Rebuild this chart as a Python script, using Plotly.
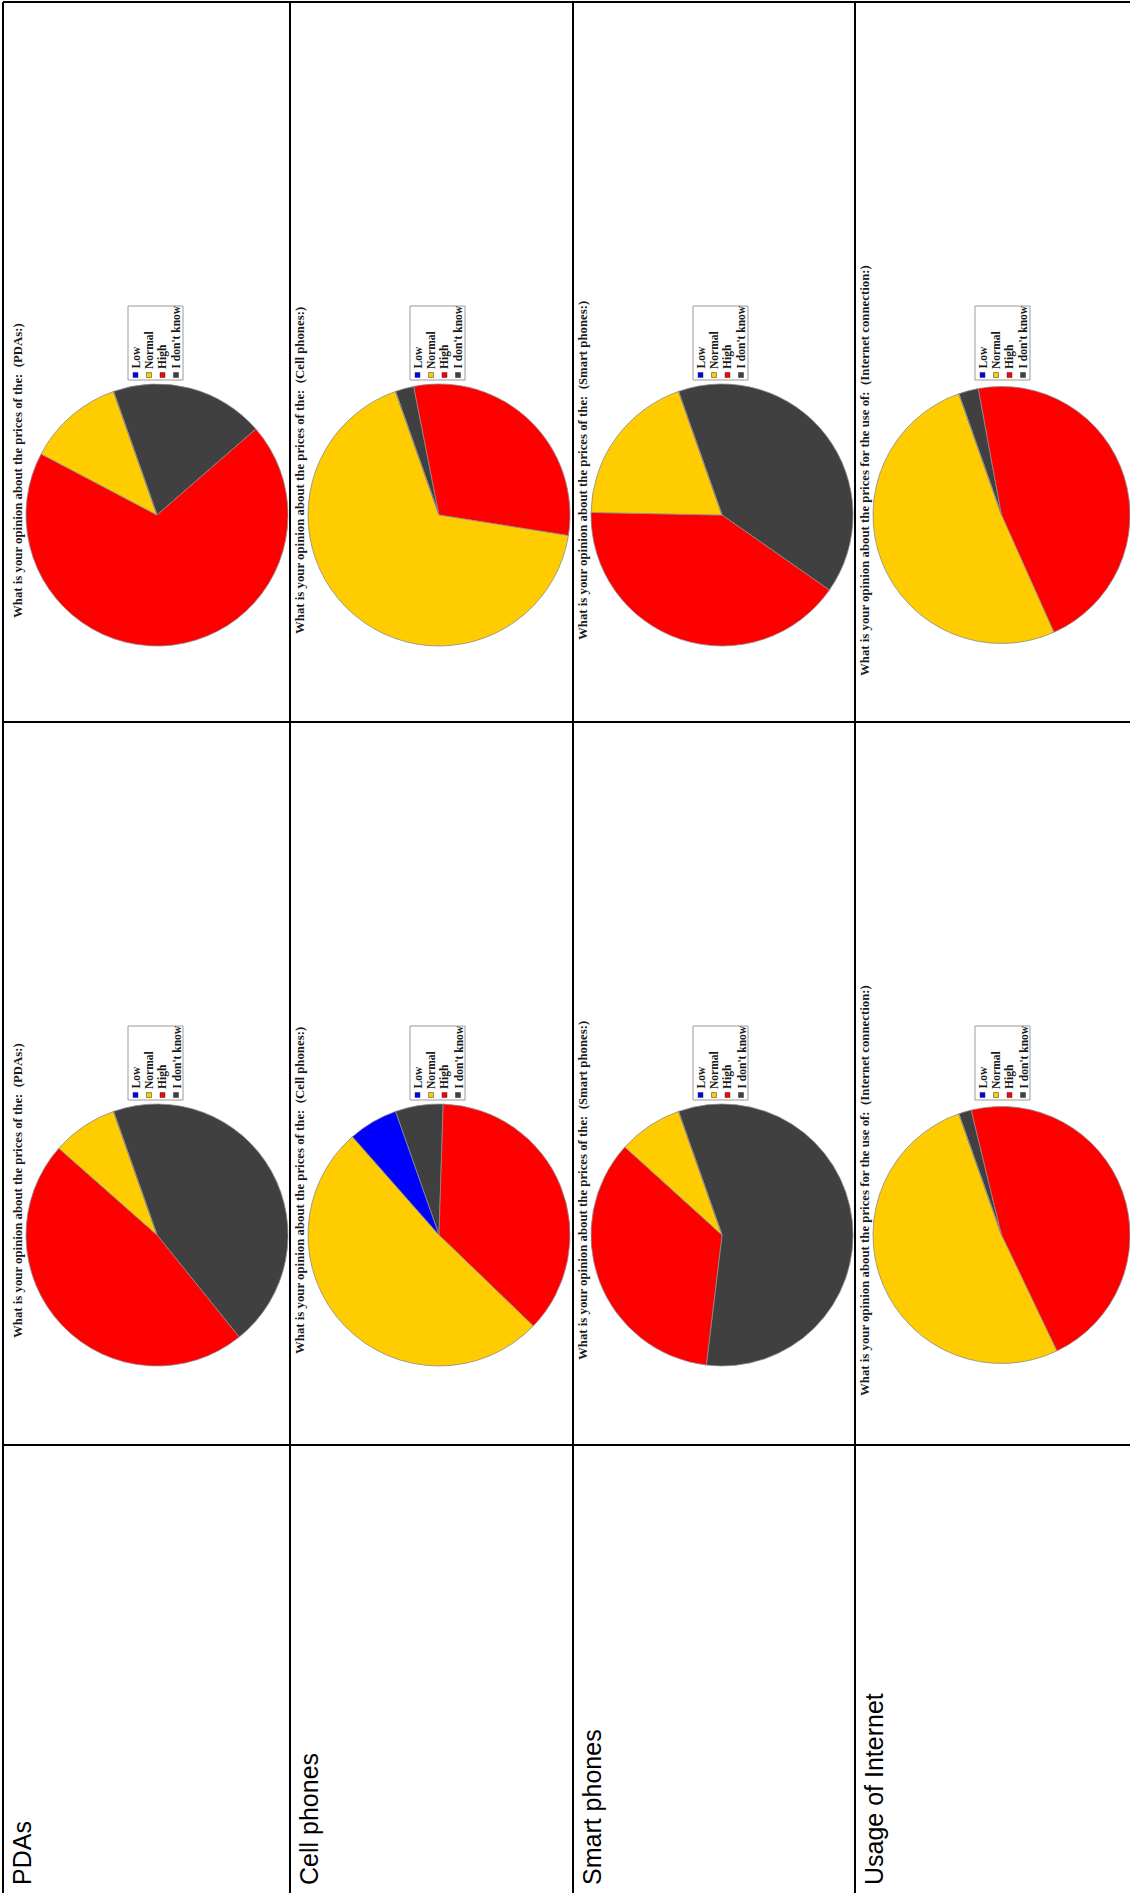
import plotly.graph_objects as go

W, H = 1130, 1893

categories = ["Low", "Normal", "High", "I don't know"]
colors = ["#0000FF", "#FFCC00", "#FF0000", "#404040"]
devices = ["PDAs", "Cell phones", "Smart phones", "Usage of Internet"]
titles = [
    "What is your opinion about the prices of the:  (PDAs:)",
    "What is your opinion about the prices of the:  (Cell phones:)",
    "What is your opinion about the prices of the:  (Smart phones:)",
    "What is your opinion about the prices for the use of:  (Internet connection:)",
]

# shares in %, same order as categories
# first chart column (middle band of the rotated table)
survey_1 = [
    [0, 8.1, 47.3, 44.6],
    [6.1, 51.3, 36.7, 5.9],
    [0, 7.9, 34.8, 57.3],
    [0, 51.7, 46.7, 1.6],
]
# second chart column (top band)
survey_2 = [
    [0, 11.9, 69.1, 19.0],
    [0, 67.1, 30.6, 2.3],
    [0, 19.3, 40.6, 40.1],
    [0, 51.3, 46.2, 2.5],
]

# table geometry (pixels)
col_x = [3, 290, 573, 855]
row_y = [2, 722, 1445]
pie_cx = [157, 439, 722, 1004]
R = 131
START = -19.4   # where the "Low" slice begins, clockwise from 12 o'clock


def px(x):
    return x / W


def py(y):
    return 1 - y / H


fig = go.Figure()
shapes = []
annotations = []

for row_top, data in [(row_y[0], survey_2), (row_y[1], survey_1)]:
    for i, cx in enumerate(pie_cx):
        cy = row_top + 513
        x0 = max(cx - R, 0)
        x1 = min(cx + R, W)
        vals = data[i]
        # chart is turned 90deg: draw clockwise with reversed order
        fig.add_trace(go.Pie(
            labels=categories[::-1],
            values=vals[::-1],
            marker=dict(colors=colors[::-1], line=dict(color="#8c8c8c", width=0.8)),
            sort=False,
            direction="clockwise",
            rotation=START,
            textinfo="none",
            hoverinfo="label+percent",
            domain=dict(x=[px(x0), px(x1)], y=[py(cy + R), py(cy - R)]),
            showlegend=False,
        ))

        # title (rotated)
        annotations.append(dict(
            text=titles[i], x=px(cx - 139), y=py(row_top + 469),
            xref="paper", yref="paper", showarrow=False, textangle=-90,
            xanchor="center", yanchor="middle",
            font=dict(family="Liberation Serif", size=12.8, color="#1a1a1a", weight="bold"),
        ))

        # rotated legend
        shapes.append(dict(
            type="rect", xref="paper", yref="paper",
            x0=px(cx - 29), x1=px(cx + 26), y0=py(cy - 135), y1=py(cy - 209),
            line=dict(color="#9a9a9a", width=1), fillcolor="white", layer="above",
        ))
        for j, cat in enumerate(categories):
            ix = cx - 21.5 + 13.5 * j
            shapes.append(dict(
                type="rect", xref="paper", yref="paper",
                x0=px(ix - 2.5), x1=px(ix + 2.5), y0=py(cy - 137.5), y1=py(cy - 142.5),
                line=dict(color="#333333", width=0.5), fillcolor=colors[j], layer="above",
            ))
            annotations.append(dict(
                text=cat, x=px(ix), y=py(cy - 145),
                xref="paper", yref="paper", showarrow=False, textangle=-90,
                xanchor="center", yanchor="bottom", borderpad=0,
                font=dict(family="Liberation Serif", size=11.5, color="#1a1a1a", weight="bold"),
            ))

# row labels in the bottom band
for i, col in enumerate(col_x):
    annotations.append(dict(
        text=devices[i], x=px(col + 19), y=py(1887),
        xref="paper", yref="paper", showarrow=False, textangle=-90,
        xanchor="center", yanchor="bottom",
        font=dict(family="Liberation Sans", size=25, color="black"),
    ))

# table grid
for col in col_x:
    shapes.append(dict(type="line", xref="paper", yref="paper",
                       x0=px(col), x1=px(col), y0=py(row_y[0]), y1=0,
                       line=dict(color="black", width=2)))
for ry in row_y:
    shapes.append(dict(type="line", xref="paper", yref="paper",
                       x0=px(col_x[0]), x1=1, y0=py(ry), y1=py(ry),
                       line=dict(color="black", width=2)))

fig.update_layout(
    width=W, height=H,
    margin=dict(l=0, r=0, t=0, b=0),
    paper_bgcolor="white",
    plot_bgcolor="white",
    shapes=shapes,
    annotations=annotations,
)

# drop the default page margin so the figure sits at the window corner
fig.write_html(
    "out.html",
    config={"displayModeBar": False},
    post_script="document.body.style.margin='0px';document.body.style.overflow='hidden';",
)
